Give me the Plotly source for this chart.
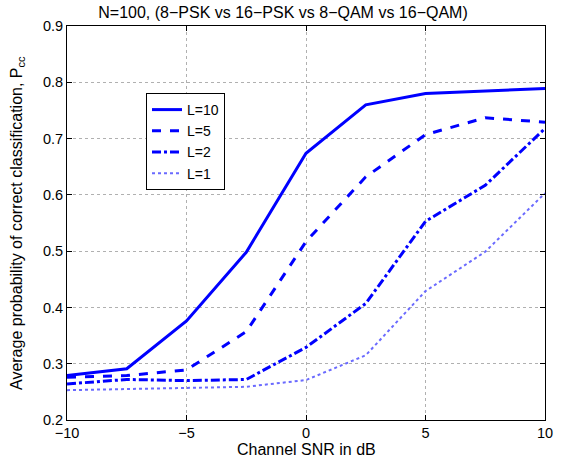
import plotly.graph_objects as go

snr = [-10, -7.5, -5, -2.5, 0, 2.5, 5, 7.5, 10]
pcc_L10 = [0.279, 0.291, 0.376, 0.498, 0.674, 0.760, 0.780, 0.785, 0.789]
pcc_L5 = [0.276, 0.279, 0.289, 0.357, 0.517, 0.632, 0.707, 0.737, 0.729]
pcc_L2 = [0.264, 0.272, 0.270, 0.272, 0.329, 0.407, 0.553, 0.617, 0.718]
pcc_L1 = [0.253, 0.255, 0.256, 0.259, 0.271, 0.315, 0.429, 0.499, 0.603]

series = [
    ("L=10", pcc_L10, "solid", 3, "#0000ff"),
    ("L=5", pcc_L5, "dash", 3, "#0000ff"),
    ("L=2", pcc_L2, "dashdot", 3, "#0000ff"),
    ("L=1", pcc_L1, "dot", 2, "#6a6aff"),
]

xticks = [-10, -5, 0, 5, 10]
xticktext = ["\u221210", "\u22125", "0", "5", "10"]
yticks = [0.2, 0.3, 0.4, 0.5, 0.6, 0.7, 0.8, 0.9]
yticktext = ["0.2", "0.3", "0.4", "0.5", "0.6", "0.7", "0.8", "0.9"]

FAM = "Liberation Sans, Arial, sans-serif"
tickfont = dict(family=FAM, size=14.5, color="black")
labfont = dict(family=FAM, size=16, color="black")

fig = go.Figure()
for name, y, dash, w, col in series:
    fig.add_trace(go.Scatter(x=snr, y=y, mode="lines", name=name,
                             line=dict(color=col, width=w, dash=dash)))

axis_common = dict(showline=True, linecolor="black", linewidth=1, mirror="ticks",
                   ticks="inside", ticklen=5, tickcolor="black",
                   showgrid=True, gridcolor="#b0b0b0", griddash="dot", gridwidth=1,
                   zeroline=False, tickfont=tickfont)

L, R, T, B = 67, 21, 26, 42
W, H = 566, 462
pw, ph = W - L - R, H - T - B

fig.update_layout(
    width=W, height=H,
    margin=dict(l=L, r=R, t=T, b=B),
    paper_bgcolor="white", plot_bgcolor="white",
    font=dict(family=FAM, size=13, color="black"),
    title=dict(text="N=100, (8\u2212PSK vs 16\u2212PSK vs 8\u2212QAM vs 16\u2212QAM)",
               x=0.5, xanchor="center", y=1 - 12 / H, yanchor="middle",
               font=dict(family=FAM, size=16, color="black")),
    xaxis=dict(range=[-10, 10], tickvals=xticks, ticktext=xticktext, **axis_common),
    yaxis=dict(range=[0.2, 0.9], tickvals=yticks, ticktext=yticktext, **axis_common),
    legend=dict(x=(146 - L) / pw, y=(H - B - 93) / ph, xanchor="left", yanchor="top",
                bgcolor="white", bordercolor="black", borderwidth=1,
                font=dict(family=FAM, size=14, color="black"),
                tracegroupgap=0, itemwidth=30),
    showlegend=True,
    annotations=[
        dict(text="Channel SNR in dB", xref="paper", yref="paper",
             x=0.5, y=-(449 - (H - B)) / ph, xanchor="center", yanchor="middle",
             showarrow=False, font=labfont),
        dict(text="Average probability of correct classification, P<sub>cc</sub>",
             xref="paper", yref="paper", x=-(L - 17) / pw, y=0.5,
             xanchor="center", yanchor="middle", textangle=-90,
             showarrow=False, font=labfont),
    ],
)

fig.write_html("out.html")
